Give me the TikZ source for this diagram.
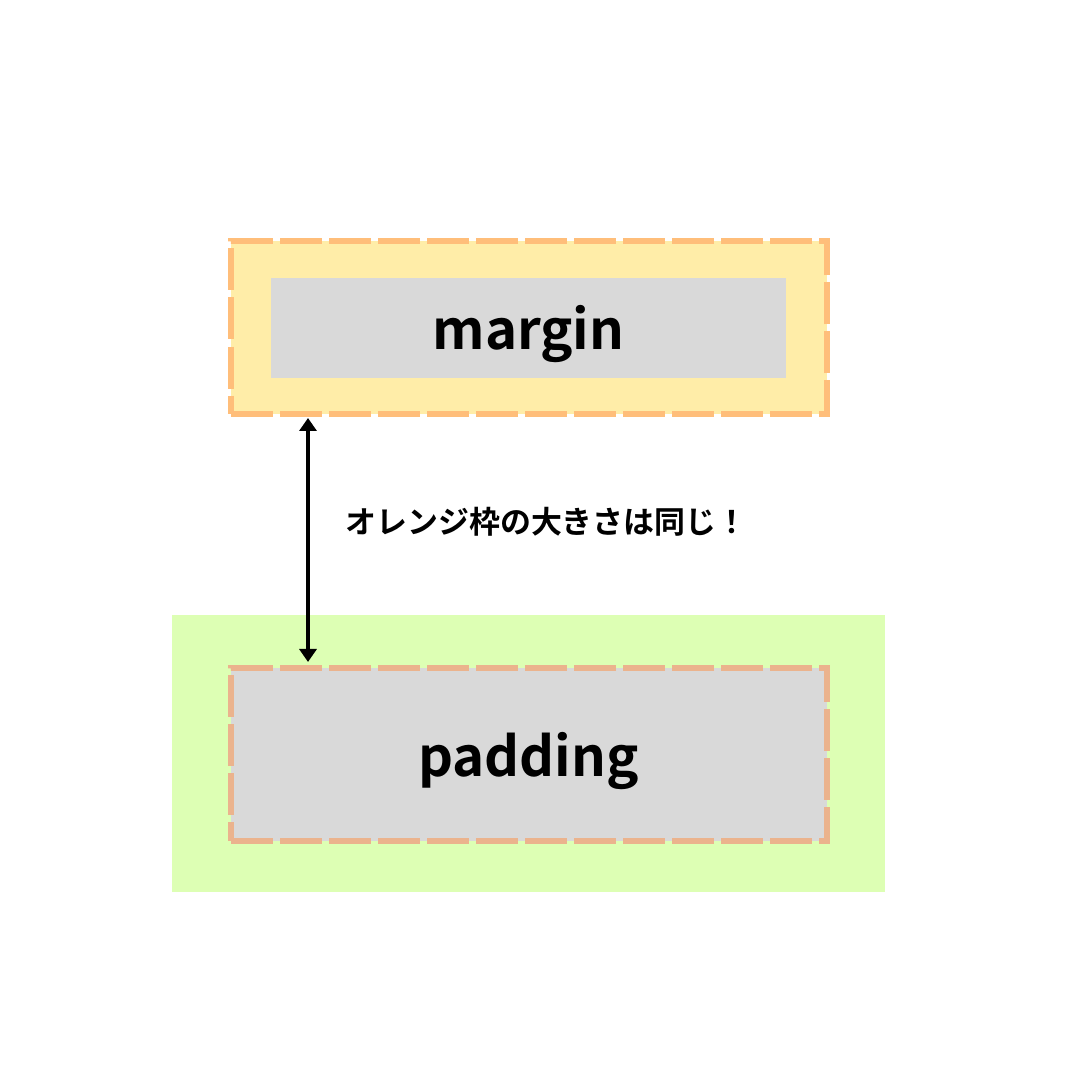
\documentclass[tikz,border=0pt]{standalone}
\usepackage{fontspec}
\setmainfont{Noto Sans CJK JP}[BoldFont={* Bold}]
\usetikzlibrary{arrows.meta}
\definecolor{boxorange}{HTML}{FFBE7A}
\definecolor{boxyellow}{HTML}{FFEDA8}
\definecolor{boxgreen}{HTML}{DDFFB4}
\definecolor{boxgrey}{HTML}{D9D9D9}
\definecolor{padorange}{HTML}{EBB38D}
\begin{document}
\begin{tikzpicture}
\tikzset{frame style/.style={shape=rectangle, inner sep=0pt, line width=0.06cm,
            dash pattern=on 0.42cm off 0.07cm, minimum width=5.96cm, minimum height=1.73cm},
         label style/.style={font=\fontsize{15.5}{18}\selectfont\bfseries}}
\useasboundingbox (0,0) rectangle (10.8,10.8);

% margin
\node[frame style, draw=boxorange, fill=boxyellow] at (5.29, 7.52)   (marginbox)  {};
\node[fill=boxgrey, minimum width=5.15cm, minimum height=1.00cm, inner sep=0pt] at (5.285, 7.52) (marginfill) {};
\node[label style] at (5.285, 7.46)   (margintext) {margin};

% padding
\node[fill=boxgreen, minimum width=7.13cm, minimum height=2.77cm] at (5.285, 3.265) (paddingarea) {};
\node[frame style, draw=padorange, fill=boxgrey] at (5.29, 3.255) (paddingbox) {};
\node[label style] at (5.285, 3.19) (paddingtext) {padding};

\coordinate (arrowtop) at (3.08, 6.62);
\coordinate (arrowbot) at (3.08, 4.18);
\draw[line width=0.035cm, {Triangle[width=0.17cm,length=0.13cm]}-{Triangle[width=0.17cm,length=0.13cm]}]
            (arrowtop) -- (arrowbot);

\node[font=\fontsize{8.8}{10}\selectfont\bfseries] at (5.465, 5.58) (note) {オレンジ枠の大きさは同じ！};
\end{tikzpicture}
\end{document}
